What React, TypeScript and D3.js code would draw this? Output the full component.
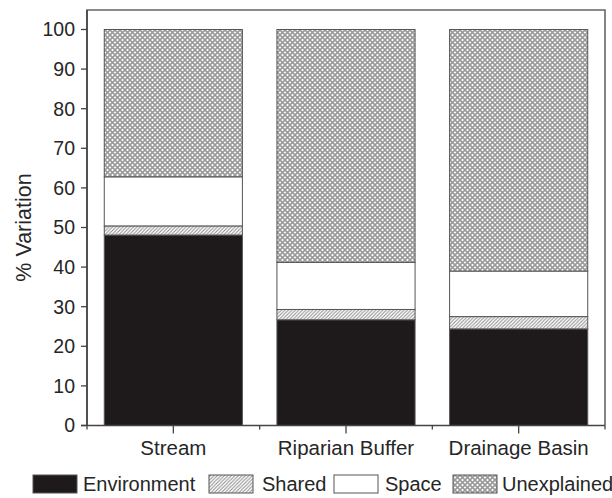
import React from "react";
import * as d3 from "d3";

const categories = ["Stream", "Riparian Buffer", "Drainage Basin"];
const environment = [48.1, 26.7, 24.4];
const shared = [2.3, 2.6, 3.1];
const space = [12.4, 11.9, 11.5];
const unexplained = [37.2, 58.8, 61.0];
const yTicks = [0, 10, 20, 30, 40, 50, 60, 70, 80, 90, 100];
const seriesNames = ["Environment", "Shared", "Space", "Unexplained"];

const W = 612;
const H = 498;
const m = { left: 87, right: 605, top: 29.5, bottom: 425.5, frameTop: 10 };
const font = "Liberation Sans, Arial, Helvetica, sans-serif";
const textColor = "#262626";

const fills = ["#1e1a1b", "url(#hatch)", "#ffffff", "url(#cross)"];

export default function App() {
  const x = d3
    .scaleBand<string>()
    .domain(categories)
    .range([m.left, m.right])
    .paddingInner(0.2)
    .paddingOuter(0.1);
  const y = d3.scaleLinear().domain([0, 100]).range([m.bottom, m.top]);

  const rows = categories.map((c, i) => ({
    cat: c,
    Environment: environment[i],
    Shared: shared[i],
    Space: space[i],
    Unexplained: unexplained[i],
  }));
  const stack = d3.stack<any>().keys(seriesNames)(rows);

  const step = x.step();
  const boundaries = [m.left, ...categories.map((c) => (x(c) as number) + x.bandwidth() / 2 + step / 2)];

  const legendItems = [
    { box: 33, text: 83 },
    { box: 209, text: 262 },
    { box: 334, text: 385 },
    { box: 453, text: 502 },
  ];

  return (
    <svg
      width={W}
      height={H}
      style={{ position: "fixed", left: 0, top: 0, background: "#fff" }}
      xmlns="http://www.w3.org/2000/svg"
    >
      <defs>
        <pattern id="hatch" patternUnits="userSpaceOnUse" width="3.5" height="3.5">
          <rect width="3.5" height="3.5" fill="#fff" />
          <path d="M-1,1 l2,-2 M0,3.5 l3.5,-3.5 M2.5,4.5 l2,-2" stroke="#8a8a8a" strokeWidth="1" />
        </pattern>
        <pattern id="cross" patternUnits="userSpaceOnUse" width="5" height="5">
          <rect width="5" height="5" fill="#fff" />
          <path d="M0,0 L5,5 M5,0 L0,5" stroke="#9a9a9a" strokeWidth="1.6" />
        </pattern>
      </defs>
      <rect x={0} y={0} width={W} height={H} fill="#fff" />

      {/* frame */}
      <path
        d={`M${m.left},${m.bottom} L${m.left},${m.frameTop} L${m.right},${m.frameTop} L${m.right},${m.bottom}`}
        fill="none"
        stroke="#666"
        strokeWidth={1.6}
      />

      {/* bars */}
      {stack.map((s, si) =>
        s.map((d, i) => {
          const bx = x(categories[i]) as number;
          const y0 = y(d[0]);
          const y1 = y(d[1]);
          return (
            <rect
              key={`${si}-${i}`}
              x={bx}
              y={y1}
              width={x.bandwidth()}
              height={y0 - y1}
              fill={fills[si]}
              stroke="#555"
              strokeWidth={1}
            />
          );
        })
      )}

      {/* y axis */}
      <line x1={m.left} x2={m.left} y1={m.frameTop} y2={m.bottom} stroke="#444" strokeWidth={1.6} />
      {yTicks.map((t) => (
        <g key={t}>
          <line x1={m.left - 6} x2={m.left} y1={y(t)} y2={y(t)} stroke="#444" strokeWidth={1.3} />
          <text
            x={m.left - 12}
            y={y(t)}
            dy="0.35em"
            textAnchor="end"
            fontFamily={font}
            fontSize={19.5}
            fill={textColor}
          >
            {t}
          </text>
        </g>
      ))}
      <text
        transform={`translate(23,${(m.top + m.bottom) / 2}) rotate(-90)`}
        textAnchor="middle"
        dy="0.35em"
        fontFamily={font}
        fontSize={21.5}
        fill={textColor}
      >
        % Variation
      </text>

      {/* x axis */}
      <line x1={m.left - 6} x2={m.right} y1={m.bottom} y2={m.bottom} stroke="#444" strokeWidth={1.6} />
      {boundaries.map((b, i) => (
        <line key={`b${i}`} x1={b} x2={b} y1={m.bottom} y2={m.bottom + 4} stroke="#444" strokeWidth={1.3} />
      ))}
      {categories.map((c) => {
        const cx = (x(c) as number) + x.bandwidth() / 2;
        return (
          <g key={c}>
            <line x1={cx} x2={cx} y1={m.bottom} y2={m.bottom + 8} stroke="#444" strokeWidth={1.3} />
            <text x={cx} y={455} textAnchor="middle" fontFamily={font} fontSize={20.5} fill={textColor}>
              {c}
            </text>
          </g>
        );
      })}

      {/* legend */}
      {seriesNames.map((n, i) => (
        <g key={n}>
          <rect
            x={legendItems[i].box}
            y={475}
            width={44}
            height={18}
            fill={fills[i]}
            stroke="#555"
            strokeWidth={1}
          />
          <text x={legendItems[i].text} y={491} fontFamily={font} fontSize={20} fill={textColor}>
            {n}
          </text>
        </g>
      ))}
    </svg>
  );
}
